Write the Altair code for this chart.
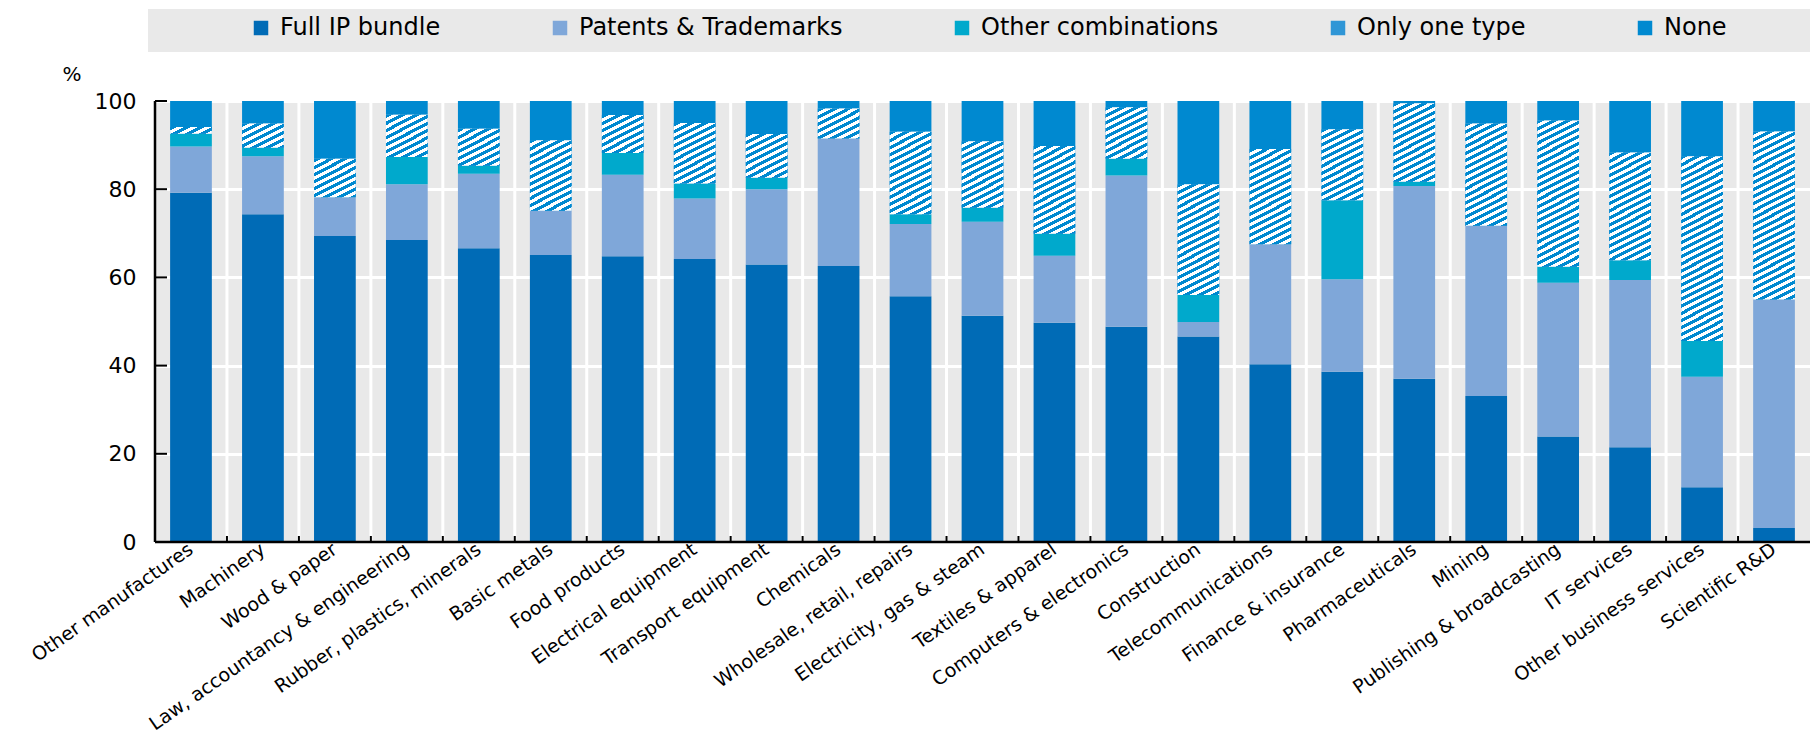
import math
import altair as alt
import pandas as pd

# ---------------- data ----------------
categories = [
    "Other manufactures", "Machinery", "Wood & paper", "Law, accountancy & engineering",
    "Rubber, plastics, minerals", "Basic metals", "Food products", "Electrical equipment",
    "Transport equipment", "Chemicals", "Wholesale, retail, repairs", "Electricity, gas & steam",
    "Textiles & apparel", "Computers & electronics", "Construction", "Telecommunications",
    "Finance & insurance", "Pharmaceuticals", "Mining", "Publishing & broadcasting",
    "IT services", "Other business services", "Scientific R&D",
]
full_ip = [79.2, 74.3, 69.4, 68.5, 66.6, 65.1, 64.8, 64.2, 62.9, 62.6, 55.7, 51.3,
           49.7, 48.8, 46.6, 40.3, 38.6, 37.0, 33.1, 23.9, 21.5, 12.4, 3.2]
patents_tm = [10.5, 13.2, 8.8, 12.6, 16.9, 10.0, 18.5, 13.7, 17.1, 28.9, 16.4, 21.3,
              15.2, 34.3, 3.3, 27.2, 21.0, 43.7, 38.6, 34.9, 37.9, 25.1, 51.8]
other_comb = [2.9, 1.9, 0.0, 6.2, 1.8, 0.0, 4.9, 3.4, 2.6, 0.0, 2.2, 3.2,
              5.0, 3.8, 6.1, 0.0, 17.9, 1.0, 0.0, 3.6, 4.5, 8.1, 0.0]
only_one = [1.5, 5.5, 8.7, 9.6, 8.4, 16.0, 8.6, 13.7, 9.9, 6.8, 18.7, 15.1,
            19.9, 11.7, 25.1, 21.6, 16.1, 17.8, 23.2, 33.2, 24.4, 41.9, 38.1]
none_ = [5.9, 5.1, 13.1, 3.1, 6.3, 8.9, 3.2, 5.0, 7.5, 1.7, 7.0, 9.1,
         10.2, 1.4, 18.9, 10.9, 6.4, 0.5, 5.1, 4.4, 11.7, 12.5, 6.9]

types = ["Full IP bundle", "Patents & Trademarks", "Other combinations", "Only one type", "None"]
series = [full_ip, patents_tm, other_comb, only_one, none_]
y_ticks = [0, 20, 40, 60, 80, 100]

# ---------------- style ----------------
C_FULL, C_PAT, C_OTHER, C_ONLY_LEG, C_NONE = "#006BB6", "#7FA7D9", "#00A9CC", "#2F96D6", "#0089D0"
STRIPE_BLUE = "#0089D0"
GRID_BG = "#E9E9E9"
FONT = "DejaVu Sans"

W, H = 1655, 441
BAR_FRAC = 0.58

# ---------------- tables ----------------
rows = []
for i, cat in enumerate(categories):
    base = 0.0
    for k, t in enumerate(types):
        v = series[k][i]
        if v > 0:
            rows.append({"cat": cat, "idx": i, "type": t, "order": k,
                         "value": v, "y0": base, "y1": base + v})
        base += v
df = pd.DataFrame(rows)
only_df = df[df["type"] == "Only one type"].reset_index(drop=True)


def stripe_gradient(value, theta_deg=27.0, period=6.3):
    h_px = value / 100.0 * H
    w_px = BAR_FRAC * W / len(categories)
    th = math.radians(theta_deg)
    r = math.tan(th) * w_px / h_px
    k = (r + 1) / (r * r + 1)
    dist = w_px * math.sin(th) + h_px * math.cos(th)
    n = dist / period
    stops = []
    i = 0
    while True:
        a, b, c = i / n, (i + 0.5) / n, (i + 1) / n
        if a >= 1:
            break
        stops.append({"offset": round(a, 5), "color": STRIPE_BLUE})
        stops.append({"offset": round(min(b, 1.0), 5), "color": STRIPE_BLUE})
        if b >= 1:
            break
        stops.append({"offset": round(b, 5), "color": "#FFFFFF"})
        stops.append({"offset": round(min(c, 1.0), 5), "color": "#FFFFFF"})
        i += 1
    return {"gradient": "linear", "x1": 0, "y1": 0, "x2": k * r, "y2": k, "stops": stops}


conds = [{"test": f"datum.idx === {int(r.idx)}", "value": stripe_gradient(r.value)}
         for r in only_df.itertuples()]

# ---------------- scales / axes ----------------
x_scale = alt.Scale(domain=categories, paddingInner=0, paddingOuter=0)
y_scale = alt.Scale(domain=[0, 100], nice=False, zero=True)

x_axis = alt.Axis(title=None, grid=False, ticks=False, domain=False,
                  labelAngle=-35, labelAlign="right", labelBaseline="middle",
                  labelFont=FONT, labelFontSize=19, labelColor="#000000",
                  labelPadding=5, labelLimit=600, labelOverlap=False)
y_axis = alt.Axis(values=y_ticks, grid=True, gridColor="#FFFFFF", gridWidth=3,
                  domain=False, ticks=False, tickSize=0,
                  labelFont=FONT, labelFontSize=22, labelColor="#000000", labelPadding=19,
                  title="%", titleAngle=0, titleFont=FONT, titleFontSize=20,
                  titleFontWeight="normal", titleColor="#000000",
                  titleX=-93, titleY=-21, titleAlign="left", titleBaseline="alphabetic")


def X(**kw):
    return alt.X("cat:N", sort=categories, scale=x_scale, axis=x_axis, **kw)


def Y(field):
    return alt.Y(field, scale=y_scale, axis=y_axis)


legend = alt.Legend(orient="none", legendX=94, legendY=-85, direction="horizontal",
                    title=None, symbolType="square", symbolSize=210, symbolStrokeWidth=0,
                    symbolOpacity=1, labelFont=FONT, labelFontSize=24, labelColor="#000000",
                    columnPadding=107, labelOffset=7, padding=0, zindex=1, labelLimit=600)

# ---------------- layers ----------------
cat_df = pd.DataFrame({"cat": categories[1:]})
yt_df = pd.DataFrame({"v": y_ticks[1:]})
line_df = pd.DataFrame({"a": [0], "b": [100]})

legend_box = alt.Chart(line_df).mark_rect(color=GRID_BG).encode(
    x=alt.value(-7), x2=alt.value(W + 10), y=alt.value(-92), y2=alt.value(-49))

vgrid = alt.Chart(cat_df).mark_rule(color="#FFFFFF", strokeWidth=3).encode(
    x=X(bandPosition=0), y=alt.value(0), y2=alt.value(H))

bars = alt.Chart(df).mark_bar(width=alt.RelativeBandSize(BAR_FRAC)).encode(
    x=X(),
    y=Y("y1:Q"), y2="y0:Q",
    color=alt.Color("type:N", scale=alt.Scale(domain=types,
                    range=[C_FULL, C_PAT, C_OTHER, C_ONLY_LEG, C_NONE]), legend=legend),
)

stripes = alt.Chart(only_df).mark_bar(width=alt.RelativeBandSize(BAR_FRAC)).encode(
    x=X(), y=Y("y1:Q"), y2="y0:Q",
    fill=alt.FillValue(value=STRIPE_BLUE, condition=conds),
)

xticks = alt.Chart(cat_df).mark_rule(color="#000000", strokeWidth=2).encode(
    x=X(bandPosition=0), y=alt.value(H), y2=alt.value(H - 6))

yticks = alt.Chart(yt_df).mark_rule(color="#000000", strokeWidth=2).encode(
    y=Y("v:Q"), x=alt.value(0), x2=alt.value(12))

y_line = alt.Chart(line_df).mark_rule(color="#000000", strokeWidth=2.5).encode(
    x=alt.value(0), y=Y("a:Q"), y2="b:Q")

x_line = alt.Chart(line_df).mark_rule(color="#000000", strokeWidth=2.5).encode(
    y=Y("a:Q"), x=alt.value(0), x2=alt.value(W))

chart = alt.layer(legend_box, vgrid, bars, stripes, xticks, yticks, y_line, x_line).properties(
    width=W, height=H,
    padding={"left": 147, "top": 93, "right": 0, "bottom": 196},
    autosize=alt.AutoSizeParams(type="none"),
).configure_view(fill=GRID_BG, strokeWidth=0)

chart.save("out.html", embed_options={"renderer": "svg", "actions": False})
